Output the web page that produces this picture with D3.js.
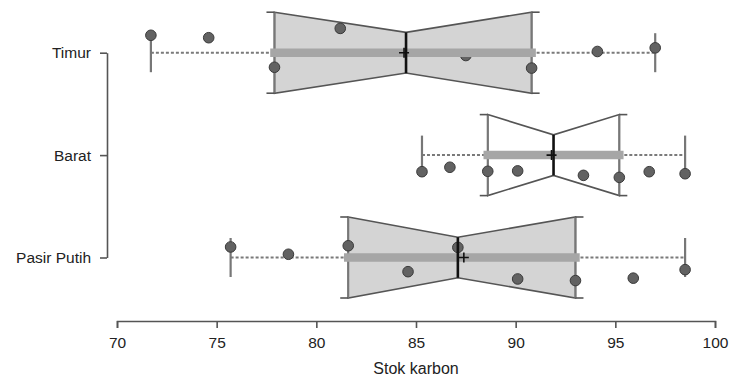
<!DOCTYPE html>
<html>
<head>
<meta charset="utf-8">
<script src="https://cdn.jsdelivr.net/npm/d3@7"></script>
<style>
  html, body { margin: 0; padding: 0; background: #fff; }
  svg { display: block; }
  text { font-family: "Liberation Sans", Arial, Helvetica, sans-serif; fill: #222; }
</style>
</head>
<body>
<svg id="chart" width="732" height="381"></svg>
<script>
// ---- data ----
const categories = ["Timur", "Barat", "Pasir Putih"];
const whiskerLow  = [71.7, 85.3, 75.7];
const q1          = [77.9, 88.6, 81.6];
const medians     = [84.5, 91.9, 87.1];
const q3          = [90.8, 95.2, 93.0];
const whiskerHigh = [97.0, 98.5, 98.5];
const means       = [84.4, 91.8, 87.4];
const boxFilled   = [true, false, true];

const pointsTimur = [71.7, 74.6, 81.2, 77.9, 87.5, 90.8, 94.1, 97.0];
const jitterTimur = [-0.43, -0.37, -0.60, 0.36, 0.07, 0.38, -0.03, -0.12];
const pointsBarat = [85.3, 86.7, 88.6, 90.1, 93.4, 95.2, 96.7, 98.5];
const jitterBarat = [0.41, 0.30, 0.40, 0.39, 0.50, 0.55, 0.41, 0.46];
const pointsPasir = [75.7, 78.6, 81.6, 84.6, 87.1, 90.1, 93.0, 95.9, 98.5];
const jitterPasir = [-0.26, -0.08, -0.29, 0.35, -0.25, 0.53, 0.57, 0.51, 0.30];

const xTicks = [70, 75, 80, 85, 90, 95, 100];
const xTitle = "Stok karbon";

// ---- build ----
const points = [pointsTimur, pointsBarat, pointsPasir];
const jitters = [jitterTimur, jitterBarat, jitterPasir];

const svg = d3.select("#chart");
const x = d3.scaleLinear().domain([70, 100]).range([117, 715]);
const y = d3.scalePoint().domain(categories).range([52.7, 257.5]);
const halfBox = 40.5, halfNotch = 20.3, halfCap = 19.5;
const j = d3.scaleLinear().domain([-1, 1]).range([-halfBox, halfBox]);

const g = svg.append("g");

categories.forEach((c, i) => {
  const cy = y(c);
  const grp = g.append("g");
  // dotted whiskers
  grp.append("line")
    .attr("x1", x(whiskerLow[i])).attr("x2", x(q1[i]))
    .attr("y1", cy).attr("y2", cy)
    .attr("stroke", "#7a7a7a").attr("stroke-width", 2).attr("stroke-dasharray", "3,2");
  grp.append("line")
    .attr("x1", x(q3[i])).attr("x2", x(whiskerHigh[i]))
    .attr("y1", cy).attr("y2", cy)
    .attr("stroke", "#7a7a7a").attr("stroke-width", 2).attr("stroke-dasharray", "3,2");
  // whisker caps
  [whiskerLow[i], whiskerHigh[i]].forEach(v => {
    grp.append("line")
      .attr("x1", x(v)).attr("x2", x(v))
      .attr("y1", cy - halfCap).attr("y2", cy + halfCap)
      .attr("stroke", "#777").attr("stroke-width", 2.2);
  });
  // bowtie box
  const poly = [
    [x(q1[i]), cy - halfBox], [x(medians[i]), cy - halfNotch], [x(q3[i]), cy - halfBox],
    [x(q3[i]), cy + halfBox], [x(medians[i]), cy + halfNotch], [x(q1[i]), cy + halfBox]
  ];
  grp.append("path")
    .attr("d", d3.line()(poly) + "Z")
    .attr("fill", boxFilled[i] ? "#d4d4d4" : "#fff")
    .attr("stroke", "#555").attr("stroke-width", 1.6).attr("stroke-linejoin", "miter");
  // box end verticals (slightly heavier)
  [q1[i], q3[i]].forEach((v, k) => {
    grp.append("line")
      .attr("x1", x(v)).attr("x2", x(v))
      .attr("y1", cy - halfBox).attr("y2", cy + halfBox)
      .attr("stroke", "#777").attr("stroke-width", 2);
    const dir = k === 0 ? -1 : 1;
    [cy - halfBox, cy + halfBox].forEach(yy => {
      grp.append("line")
        .attr("x1", x(v)).attr("x2", x(v) + dir * 8)
        .attr("y1", yy).attr("y2", yy)
        .attr("stroke", "#555").attr("stroke-width", 1.6);
    });
  });
  // points
  grp.selectAll("circle").data(points[i].map((v, k) => ({v, jt: jitters[i][k]})))
    .enter().append("circle")
    .attr("cx", d => x(d.v)).attr("cy", d => cy + j(d.jt))
    .attr("r", 5.3)
    .attr("fill", "#626262").attr("stroke", "#3a3a3a").attr("stroke-width", 1);
  // IQR band
  grp.append("line")
    .attr("x1", x(q1[i])).attr("x2", x(q3[i]))
    .attr("y1", cy).attr("y2", cy)
    .attr("stroke", "#a6a6a6").attr("stroke-width", 8.5).attr("stroke-linecap", "square");
  // median
  grp.append("line")
    .attr("x1", x(medians[i])).attr("x2", x(medians[i]))
    .attr("y1", cy - halfNotch).attr("y2", cy + halfNotch)
    .attr("stroke", "#111").attr("stroke-width", 2.6);
  // mean plus
  const mx = x(means[i]);
  grp.append("path")
    .attr("d", `M${mx - 5},${cy}H${mx + 5}M${mx},${cy - 5}V${cy + 5}`)
    .attr("stroke", "#111").attr("stroke-width", 1.6).attr("fill", "none");
});

// x axis
const xAxis = svg.append("g").attr("transform", "translate(0,321)")
  .call(d3.axisBottom(x).tickValues(xTicks).tickSize(7).tickPadding(9).tickFormat(d3.format("d")));
xAxis.select(".domain").attr("stroke", "#555").attr("stroke-width", 1.6);
xAxis.selectAll(".tick line").attr("stroke", "#555").attr("stroke-width", 1.6);
xAxis.selectAll("text").style("font-size", "15.5px").attr("fill", "#222");

svg.append("text").attr("x", 416).attr("y", 374).attr("text-anchor", "middle")
  .style("font-size", "16px").text(xTitle);

// y axis
const yAxis = svg.append("g").attr("transform", "translate(107,0)")
  .call(d3.axisLeft(y).tickSizeInner(7).tickSizeOuter(0).tickPadding(9));
yAxis.select(".domain").attr("stroke", "#555").attr("stroke-width", 1.6);
yAxis.selectAll(".tick line").attr("stroke", "#555").attr("stroke-width", 1.6);
yAxis.selectAll("text").style("font-size", "15.5px").attr("fill", "#222");
</script>
</body>
</html>
